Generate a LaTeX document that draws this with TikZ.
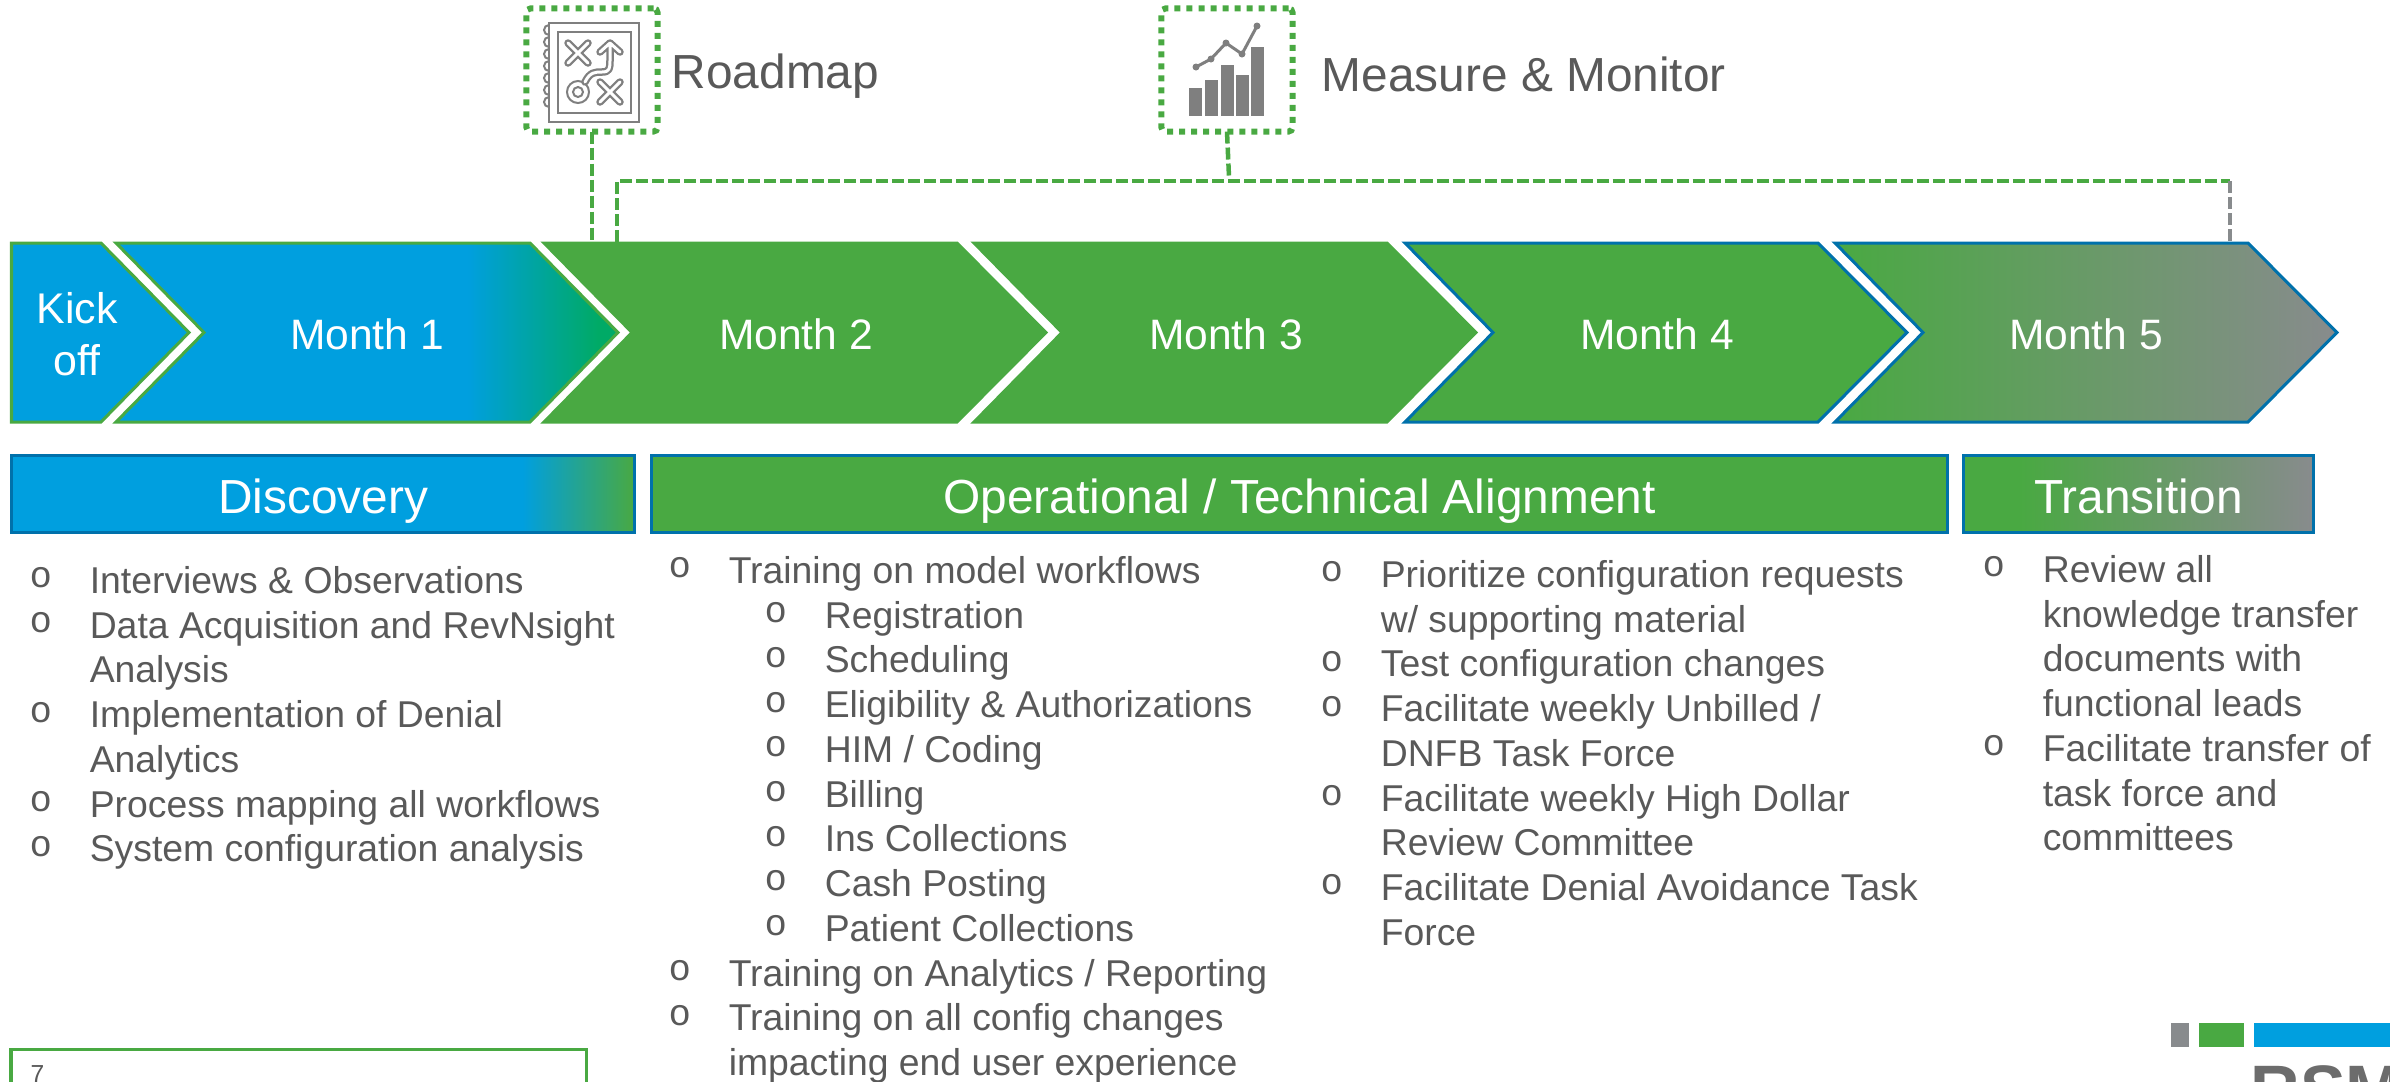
\documentclass[tikz,border=0pt]{standalone}
\usepackage{fontspec}
\setmainfont{Liberation Sans}
\newfontfamily\bulletfont{Liberation Mono}
\usetikzlibrary{positioning, calc, shadings}

\definecolor{rsmblue}{HTML}{009FDF}
\definecolor{rsmgreen}{HTML}{49A942}
\definecolor{rsmgray}{HTML}{888B8D}
\definecolor{rsmedge}{HTML}{0071AB}
\definecolor{rsmtip}{HTML}{00AA66}
\definecolor{bodygray}{HTML}{595959}
\definecolor{icongray}{HTML}{7F7F7F}

\pgfdeclarehorizontalshading{monthone}{100bp}{color(0bp)=(rsmblue); color(60bp)=(rsmblue); color(73bp)=(rsmtip); color(100bp)=(rsmtip)}
\pgfdeclarehorizontalshading{discfade}{100bp}{color(0bp)=(rsmblue); color(66bp)=(rsmblue); color(75bp)=(rsmgreen); color(100bp)=(rsmgreen)}
\pgfdeclarehorizontalshading{monthfive}{100bp}{color(0bp)=(rsmgreen); color(25bp)=(rsmgreen); color(75bp)=(rsmgray); color(100bp)=(rsmgray)}
\pgfdeclarehorizontalshading{transfade}{100bp}{color(0bp)=(rsmgreen); color(33bp)=(rsmgreen); color(75bp)=(rsmgray); color(100bp)=(rsmgray)}

\newcommand{\bulletmark}{\hbox to 16.8pt{\kern-0.3pt\raisebox{1.6pt}{\bulletfont o}\hfil}}
\newcommand{\itemone}[1]{\par\hangindent=16.8pt\hangafter=1\noindent\bulletmark#1\par}
\newcommand{\itemtwo}[1]{\par{\leftskip=27.3pt\hangindent=16.8pt\hangafter=1\noindent\bulletmark#1\par}}

\tikzset{
  chevlabel/.style={minimum width=5.05cm, minimum height=1.81cm, inner sep=0pt, outer sep=0pt, text=white, font=\fontsize{12.1}{14}\selectfont},
  monthlabel/.style={chevlabel, text height=0.45cm, text depth=0.12cm},
  phasebar/.style={draw=rsmedge, line width=0.03cm, minimum height=0.76cm, text height=0.5cm, text depth=0.12cm, inner sep=0pt, outer sep=0pt, text=white, font=\fontsize{13.6}{16}\selectfont},
  iconbox/.style={draw=rsmgreen, line width=0.06cm, dash pattern=on 0.06cm off 0.06cm, rounded corners=0.04cm, minimum width=1.31cm, minimum height=1.23cm, inner sep=0pt, outer sep=0pt},
  icontitle/.style={text=bodygray, font=\fontsize{13.6}{16}\selectfont, inner sep=0pt, anchor=west},
  linkline/.style={draw=rsmgreen, line width=0.045cm, dash pattern=on 0.12cm off 0.04cm},
  listcol/.style={anchor=north west, align=flush left, inner sep=0pt, text=bodygray, font=\fontsize{10.62}{12.72}\selectfont},
  iconstroke/.style={draw=icongray, line width=0.075cm, line cap=round, line join=round},
  iconinner/.style={draw=white, line width=0.03cm, line cap=round, line join=round},
}

\begin{document}
\begin{tikzpicture}[x=0.01cm, y=-0.01cm]
\useasboundingbox (0,0) rectangle (2390,1081);

% chevrons
\path[draw=rsmgreen, line width=0.03cm, fill=rsmblue] (11.5,243) -- (101,243) -- (189,332.5) -- (101,422) -- (11.5,422) -- cycle;
\node[chevlabel, minimum width=1.5cm, align=center, font=\fontsize{12.2}{14.8}\selectfont] (kickoff) at (77,334.5) {Kick\\off};

\path[draw=rsmgreen, line width=0.03cm, shading=monthone] (116,243) -- (530,243) -- (618,332.5) -- (530,422) -- (116,422) -- (204,332.5) -- cycle;
\foreach \nm/\xa/\lab/\edgecol in {month2/544/Month 2/rsmgreen, month3/974/Month 3/rsmgreen, month4/1405/Month 4/rsmedge} {
    \path[draw=\edgecol, line width=0.03cm, fill=rsmgreen] (\xa,243) -- ($(\xa,243)+(413,0)$) -- ($(\xa,243)+(502,89.5)$) -- ($(\xa,243)+(413,179)$) -- ($(\xa,243)+(0,179)$) -- ($(\xa,243)+(88,89.5)$) -- cycle;
    \node[monthlabel] (\nm) at ($(\xa,332.5)+(252,0)$) {\lab};
}
\path[draw=rsmedge, line width=0.03cm, shading=monthfive] (1835,243) -- (2248,243) -- (2337,332.5) -- (2248,422) -- (1835,422) -- (1923,332.5) -- cycle;
\node[monthlabel] (month1) at (367,332.5) {Month 1};
\node[monthlabel] (month5) at (2086,332.5) {Month 5};

% phase bars
\node[phasebar, minimum width=6.23cm, shading=discfade] (discovery) at (323,494) {Discovery};
\node[phasebar, minimum width=12.95cm, fill=rsmgreen] (alignment) at (1299.5,494) {Operational / Technical Alignment};
\node[phasebar, minimum width=3.50cm, shading=transfade] (transition) at (2138.5,494) {Transition};

% icon boxes and titles
\node[iconbox] (roadmapbox) at (592,70) {};
\node[iconbox] (measurebox) at (1227,70) {};
\node[icontitle] (roadmaptitle) at (671,76) {Roadmap};
\node[icontitle] (measuretitle) at (1321,74) {Measure \& Monitor};

% connectors
\coordinate (barleft) at (617,181);
\coordinate (barright) at (2230,181);
\coordinate (barmid) at (1229,177);
\draw[linkline] (roadmapbox.south) -- (roadmapbox.south |- month2.north);
\draw[linkline] (barleft |- month2.north) -- (barleft) -- (barright);
\draw[linkline, draw=rsmgray] (barright) -- (barright |- month5.north);
\draw[linkline] (measurebox.south) -- (barmid);

% roadmap icon
\draw[icongray, line width=0.025cm] (549,23) rectangle (639,122);
\draw[icongray, line width=0.025cm] (558,32) rectangle (631,113);
\foreach \sy in {40,52,64,76,88,100,112} {
    \draw[icongray, line width=0.02cm] (549,\sy-5) arc (90:270:5);
}
\foreach \ma/\mb in {578/53, 610/92} {
    \draw[iconstroke] (\ma-10,\mb-10) -- (\ma+10,\mb+10) (\ma-10,\mb+10) -- (\ma+10,\mb-10);
    \draw[iconinner] (\ma-10,\mb-10) -- (\ma+10,\mb+10) (\ma-10,\mb+10) -- (\ma+10,\mb-10);
}
\draw[icongray, line width=0.02cm] (578,92) circle (11) (578,92) circle (5);
\draw[iconstroke] (585,82) .. controls (590,72) and (595,72) .. (602,72) .. controls (610,72) and (610,68) .. (610,60) -- (610,45) (600,52) -- (610,43) -- (620,52);
\draw[iconinner] (585,82) .. controls (590,72) and (595,72) .. (602,72) .. controls (610,72) and (610,68) .. (610,60) -- (610,45) (600,52) -- (610,43) -- (620,52);

% measure icon
\foreach \bx/\by in {1189/88, 1205/80, 1221/65, 1236/75, 1251/47} {
    \fill[icongray] (\bx,\by) rectangle ($(\bx,116)+(13,0)$);
}
\draw[icongray, line width=0.03cm] (1196,67) -- (1211,59) -- (1226,43) -- (1242,54) -- (1257,26);
\foreach \px/\py in {1196/67, 1211/59, 1226/43, 1242/54, 1257/26} {
    \fill[icongray] (\px,\py) circle (3.5);
}

% lists
\node[listcol, text width=6.0cm] (disclist) at (30,548) {%
\itemone{Interviews \& Observations}
\itemone{Data Acquisition and RevNsight\newline Analysis}
\itemone{Implementation of Denial\newline Analytics}
\itemone{Process mapping all workflows}
\itemone{System configuration analysis}};

\node[listcol, text width=6.3cm] (trainlist) at (669,538) {%
\itemone{Training on model workflows}
\itemtwo{Registration}
\itemtwo{Scheduling}
\itemtwo{Eligibility \& Authorizations}
\itemtwo{HIM / Coding}
\itemtwo{Billing}
\itemtwo{Ins Collections}
\itemtwo{Cash Posting}
\itemtwo{Patient Collections}
\itemone{Training on Analytics / Reporting}
\itemone{Training on all config changes\newline impacting end user experience}};

\node[listcol, text width=6.1cm] (configlist) at (1321,542) {%
\itemone{Prioritize configuration requests\newline w/ supporting material}
\itemone{Test configuration changes}
\itemone{Facilitate weekly Unbilled /\newline DNFB Task Force}
\itemone{Facilitate weekly High Dollar\newline Review Committee}
\itemone{Facilitate Denial Avoidance Task\newline Force}};

\node[listcol, text width=4.0cm] (translist) at (1983,537) {%
\itemone{Review all\newline knowledge transfer\newline documents with\newline functional leads}
\itemone{Facilitate transfer of\newline task force and\newline committees}};

% page number box
\draw[rsmgreen, line width=0.03cm] (11,1100) -- (11,1049) -- (586,1049) -- (586,1100);
\node[inner sep=0pt, anchor=north west, text=bodygray, font=\fontsize{7}{8}\selectfont] (pagenum) at (30,1065) {7};

% logo
\fill[rsmgray] (2171,1023) rectangle (2189,1047);
\fill[rsmgreen] (2199,1023) rectangle (2244,1047);
\fill[rsmblue] (2254,1023) rectangle (2390,1047);
\begin{scope}
\clip (2100,1000) rectangle (2390,1081);
\node[inner sep=0pt, anchor=north west, text=icongray!85!black, font=\bfseries\fontsize{19.5}{22}\selectfont] (logotext) at (2250,1065) {RSM};
\end{scope}
\end{tikzpicture}
\end{document}
